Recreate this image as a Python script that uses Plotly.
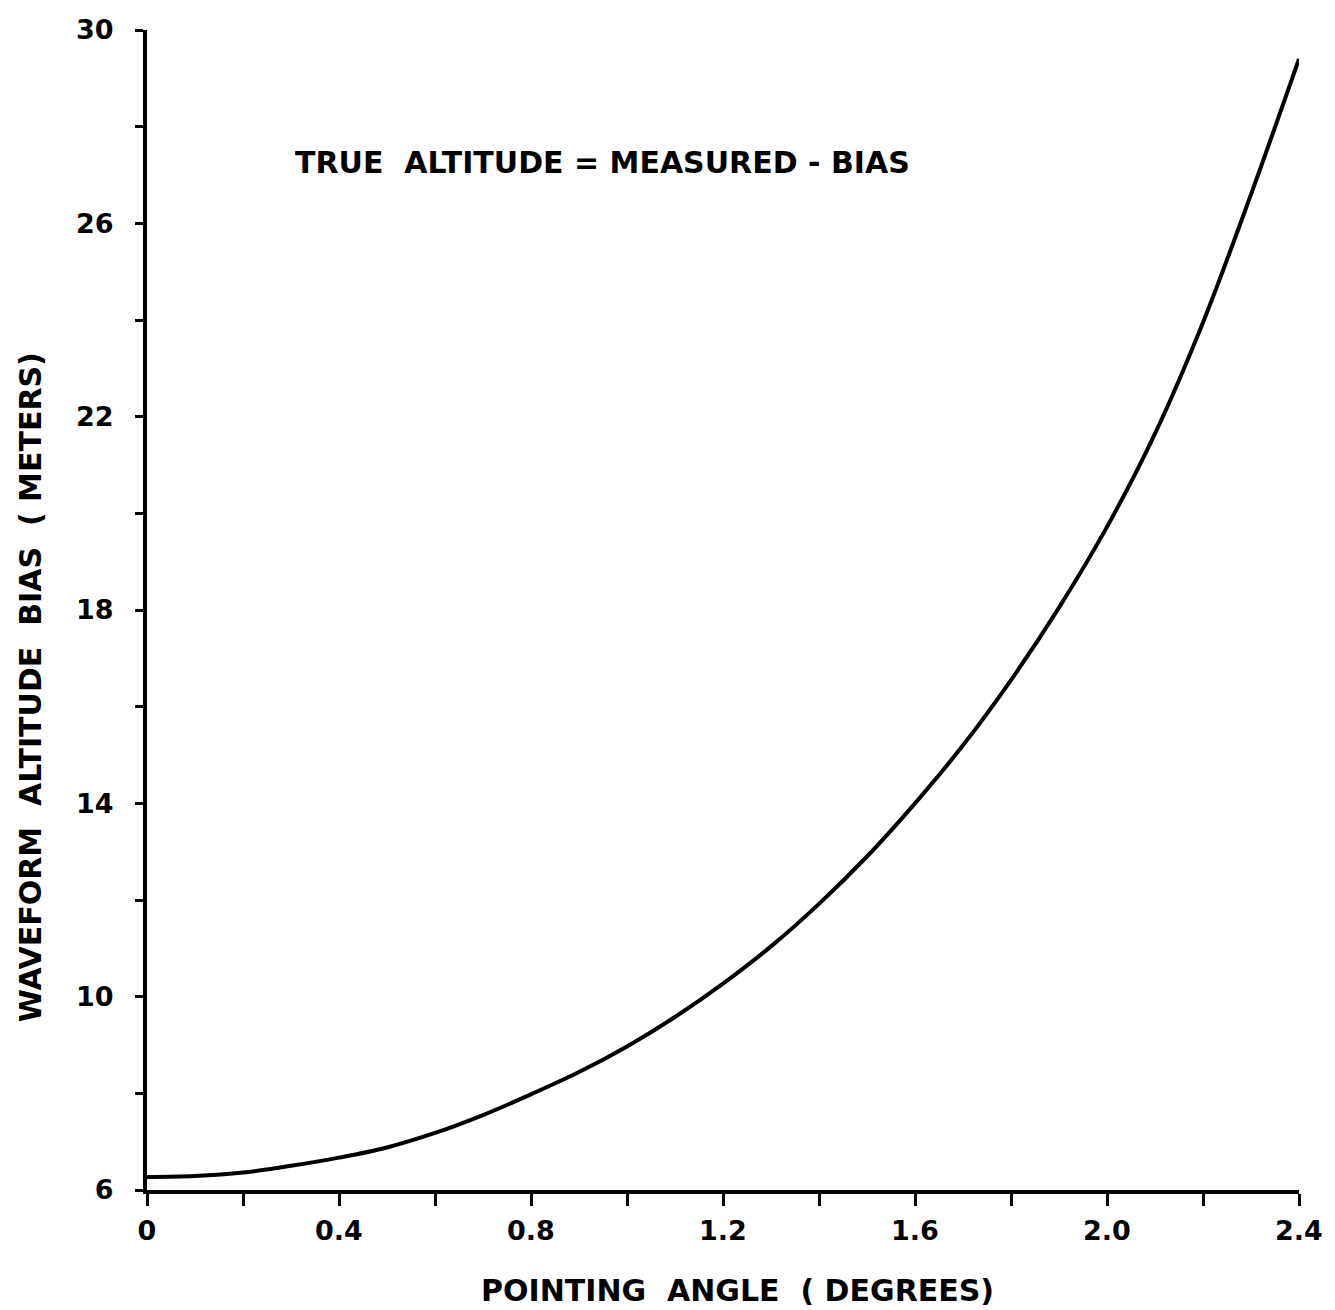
import plotly.graph_objects as go

# Data
pointing_angle = [0.0, 0.1, 0.2, 0.3, 0.4, 0.5, 0.6, 0.7, 0.8, 0.9, 1.0, 1.1, 1.2,
                  1.3, 1.4, 1.5, 1.6, 1.7, 1.8, 1.9, 2.0, 2.1, 2.2, 2.3, 2.4]
altitude_bias = [6.27, 6.29, 6.36, 6.50, 6.67, 6.88, 7.18, 7.55, 7.98, 8.44, 8.97, 9.58, 10.27,
                 11.04, 11.92, 12.90, 14.00, 15.20, 16.55, 18.05, 19.72, 21.65, 23.95, 26.60, 29.40]

x_tickvals = [0, 0.4, 0.8, 1.2, 1.6, 2.0, 2.4]
x_ticktext = ["0", "0.4", "0.8", "1.2", "1.6", "2.0", "2.4"]
y_tickvals = [6, 10, 14, 18, 22, 26, 30]
y_ticktext = ["6", "10", "14", "18", "22", "26", "30"]

x_title = "POINTING  ANGLE  ( DEGREES)"
y_title = "WAVEFORM  ALTITUDE  BIAS  ( METERS)"
note = "TRUE  ALTITUDE = MEASURED - BIAS"

FONT = "DejaVu Sans"

fig = go.Figure()
fig.add_trace(go.Scatter(
    x=pointing_angle, y=altitude_bias, mode="lines",
    line=dict(color="black", width=4, shape="spline", smoothing=1.0),
    showlegend=False, hoverinfo="skip",
))

fig.update_layout(
    width=1335, height=1310,
    margin=dict(l=147, r=30, t=30, b=120),
    paper_bgcolor="white", plot_bgcolor="white",
    font=dict(family=FONT, color="black", size=28),
    xaxis=dict(
        range=[0, 2.4], showgrid=False, zeroline=False,
        showline=True, linecolor="black", linewidth=4,
        tickmode="array", tickvals=x_tickvals, ticktext=x_ticktext,
        ticks="outside", ticklen=12, tickwidth=3, tickcolor="black",
        ticklabelstandoff=2,
        minor=dict(dtick=0.2, ticks="outside", ticklen=12, tickwidth=3, tickcolor="black", showgrid=False),
        tickfont=dict(family=FONT, size=27, color="black", weight="bold"),
    ),
    yaxis=dict(
        range=[6, 30], showgrid=False, zeroline=False,
        showline=True, linecolor="black", linewidth=4,
        tickmode="array", tickvals=y_tickvals, ticktext=y_ticktext,
        ticks="outside", ticklen=8, tickwidth=3, tickcolor="black",
        ticklabelstandoff=16,
        minor=dict(dtick=2, ticks="outside", ticklen=8, tickwidth=3, tickcolor="black", showgrid=False),
        tickfont=dict(family=FONT, size=27, color="black", weight="bold"),
    ),
    annotations=[
        dict(text=note, x=0.395, y=0.886, xref="paper", yref="paper",
             showarrow=False, font=dict(family=FONT, size=30, color="black", weight="bold"),
             xanchor="center", yanchor="middle"),
        dict(text=x_title, x=0.513, y=-0.087, xref="paper", yref="paper",
             showarrow=False, font=dict(family=FONT, size=30, color="black", weight="bold"),
             xanchor="center", yanchor="middle"),
        dict(text=y_title, x=-0.101, y=0.433, xref="paper", yref="paper",
             showarrow=False, textangle=-90, font=dict(family=FONT, size=30, color="black", weight="bold"),
             xanchor="center", yanchor="middle"),
    ],
)

fig.write_html("out.html")
